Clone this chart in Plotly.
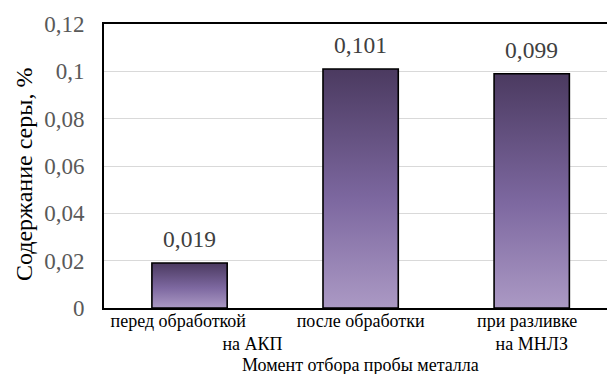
import plotly.graph_objects as go

categories = ["перед обработкой", "после обработки", "при разливке"]
second_lines = ["на АКП", "", "на МНЛЗ"]
values = [0.019, 0.101, 0.099]
value_labels = ["0,019", "0,101", "0,099"]
y_ticks = [0, 0.02, 0.04, 0.06, 0.08, 0.1, 0.12]
y_ticktext = ["0", "0,02", "0,04", "0,06", "0,08", "0,1", "0,12"]
x_title = "Момент отбора пробы металла"
y_title = "Содержание серы, %"

FONT = "Liberation Serif"
BAR_W = 0.44
grad = [[0.0, "#ab99c4"], [0.45, "#7d68a0"], [1.0, "#4b3a60"]]

fig = go.Figure()
for i, v in enumerate(values):
    x0, x1 = i - BAR_W / 2, i + BAR_W / 2
    fig.add_trace(go.Scatter(
        x=[x0, x1, x1, x0, x0], y=[0, 0, v, v, 0],
        mode="lines", fill="toself",
        fillgradient=dict(type="vertical", colorscale=grad),
        line=dict(color="#000000", width=1.6),
        hoverinfo="skip", showlegend=False,
    ))

for i, (v, t) in enumerate(zip(values, value_labels)):
    fig.add_annotation(
        x=i, y=v, text=t, showarrow=False, yanchor="bottom", yshift=9,
        font=dict(family=FONT, size=23.5, color="#404040"),
    )

nb = "&nbsp;"
line1_pad = [5, 0, 2]
line2_pad = [28, 0, 0]
ticktext = []
for c, s, p1, p2 in zip(categories, second_lines, line1_pad, line2_pad):
    t = c + nb * p1
    if s:
        t += "<br>" + nb * p2 + s
    ticktext.append(t)

# axis titles
fig.add_annotation(
    xref="paper", yref="paper", x=0.5, y=0, yshift=-57, xshift=5,
    text=x_title, showarrow=False, yanchor="middle",
    font=dict(family=FONT, size=18, color="#000000"),
)
fig.add_annotation(
    xref="paper", yref="paper", x=0, y=0.468, xshift=-80,
    text=y_title, showarrow=False, textangle=-90,
    xanchor="center", yanchor="middle",
    font=dict(family=FONT, size=24, color="#000000"),
)

fig.update_layout(
    width=607, height=374,
    margin=dict(l=104, r=0, t=24, b=66),
    paper_bgcolor="white", plot_bgcolor="white",
    font=dict(family=FONT, color="#000000"),
    xaxis=dict(
        range=[-0.5, 2.44], tickmode="array",
        tickvals=list(range(len(categories))), ticktext=ticktext,
        tickfont=dict(family=FONT, size=18, color="#000000"),
        showgrid=False, zeroline=False,
        showline=True, linecolor="#000000", linewidth=2, mirror=True,
        ticks="", ticklen=0, ticklabelstandoff=-5,
    ),
    yaxis=dict(
        range=[0, 0.12], tickmode="array", tickvals=y_ticks, ticktext=y_ticktext,
        tickfont=dict(family=FONT, size=23, color="#595959"),
        showgrid=True, gridcolor="#d9d9d9", gridwidth=1.3,
        zeroline=False,
        showline=True, linecolor="#000000", linewidth=2, mirror=False,
        ticks="", ticklabelstandoff=13,
    ),
)

fig.write_html("out.html")
